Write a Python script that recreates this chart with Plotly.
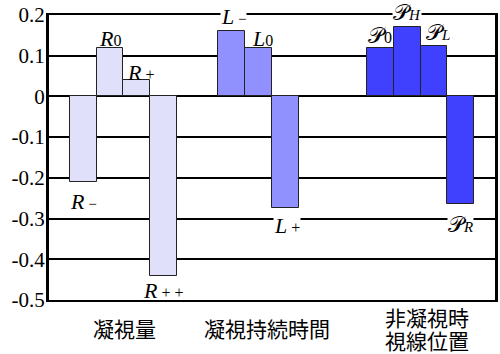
import plotly.graph_objects as go

# Data
group_lines = [["凝視量"], ["凝視持続時間"], ["非凝視時", "視線位置"]]
group_of_bar = [0, 0, 0, 0, 1, 1, 1, 2, 2, 2, 2]
slot_of_bar = [0, 1, 2, 3, 0, 1, 2, 0, 1, 2, 3]
values = [-0.21, 0.12, 0.04, -0.44, 0.16, 0.12, -0.275, 0.12, 0.17, 0.125, -0.265]
bar_labels = [
    "<i>R</i><span style='font-size:15px'> −</span>",
    "<i>R</i><span style='font-size:16px'>0</span>",
    "<i>R</i><span style='font-size:16px'> +</span>",
    "<i>R</i><span style='font-size:16px'> + +</span>",
    "<i>L</i><span style='font-size:15px'> −</span>",
    "<i>L</i><span style='font-size:16px'>0</span>",
    "<i>L</i><span style='font-size:16px'> +</span>",
    "𝒫<span style='font-size:16px'>0</span>",
    "𝒫<i><span style='font-size:15px'>H</span></i>",
    "𝒫<i><span style='font-size:15px'>L</span></i>",
    "𝒫<i><span style='font-size:15px'>R</span></i>",
]
y_ticks = [0.2, 0.1, 0, -0.1, -0.2, -0.3, -0.4, -0.5]
y_tick_text = ["0.2", "0.1", "0", "-0.1", "-0.2", "-0.3", "-0.4", "-0.5"]

# Styling
SERIF = "Times New Roman, Liberation Serif, DejaVu Serif, serif"
group_colors = ["#e0e0fa", "#9090ff", "#4040ff"]
bar_w = 0.18
# label nudges in pixels (dx, dy) and whether a white backing is needed
label_shift = [(0, -20), (0, 9), (4, 8), (0, -15), (2, 15), (4, 9), (2, -17),
               (-1, 12), (0, 15), (4, 13), (0, -20)]
label_bg = [False, False, False, False, True, False, True, False, True, False, True]
group_label_dx = [1, -5, 6]
line_gap = 23

xs = [g + (s - 1.5) * bar_w for g, s in zip(group_of_bar, slot_of_bar)]
colors = [group_colors[g] for g in group_of_bar]

fig = go.Figure()
fig.add_trace(go.Bar(
    x=xs, y=values, width=bar_w,
    marker=dict(color=colors, line=dict(color="#222222", width=1)),
    showlegend=False, hoverinfo="skip",
))

for x, v, t, (dx, dy), bg in zip(xs, values, bar_labels, label_shift, label_bg):
    fig.add_annotation(
        x=x, y=v, text=t, showarrow=False,
        xshift=dx, yshift=dy, yanchor="middle", xanchor="center",
        font=dict(family=SERIF, size=22, color="black"),
        bgcolor="white" if bg else "rgba(0,0,0,0)", borderpad=0,
    )

# category names under the axis, each block centred on a common line
for i, lines in enumerate(group_lines):
    n = len(lines)
    for k, line in enumerate(lines):
        fig.add_annotation(
            x=i, y=0, xref="x", yref="paper", yanchor="middle",
            xshift=group_label_dx[i],
            yshift=-28 - (k - (n - 1) / 2) * line_gap,
            text=line, showarrow=False,
            font=dict(family="Noto Sans CJK JP", size=21, color="black"),
        )

fig.update_layout(
    width=500, height=354,
    margin=dict(l=49, r=2, t=15, b=54),
    paper_bgcolor="white", plot_bgcolor="white",
    bargap=0,
    xaxis=dict(
        range=[-0.5, 2.5], showticklabels=False,
        showgrid=False, zeroline=False, showline=True, mirror=True,
        linecolor="black", linewidth=2, ticks="",
    ),
    yaxis=dict(
        range=[-0.5, 0.2], tickvals=y_ticks, ticktext=y_tick_text,
        showgrid=True, gridcolor="black", gridwidth=2,
        zeroline=True, zerolinecolor="black", zerolinewidth=2,
        showline=True, mirror=True, linecolor="black", linewidth=3, ticks="",
        ticklabelstandoff=-3,
        tickfont=dict(family=SERIF, size=21, color="black"),
    ),
)

fig.write_html("out.html")
